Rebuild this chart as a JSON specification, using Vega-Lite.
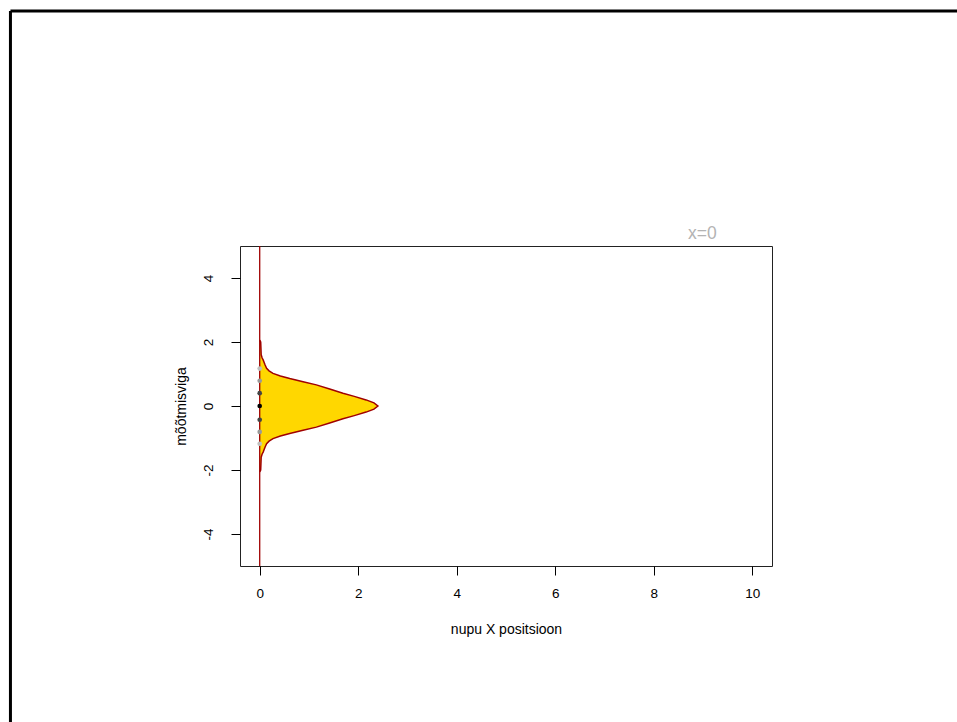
{
  "$schema": "https://vega.github.io/schema/vega-lite/v6.json",
  "width": 532,
  "height": 320,
  "autosize": {"type": "none"},
  "padding": {"left": 240, "top": 246, "right": 185, "bottom": 156},
  "background": "white",
  "config": {
    "font": "Liberation Sans",
    "view": {"stroke": "#222", "strokeWidth": 1}
  },
  "title": {
    "text": "x=0",
    "anchor": "start",
    "frame": "group",
    "dx": 448,
    "offset": -247,
    "baseline": "alphabetic",
    "color": "#B3B3B3",
    "fontSize": 17.5,
    "fontWeight": "normal",
    "font": "Liberation Sans"
  },
  "datasets": {
    "dens": [
      {"y": -2.06, "x": 0.0},
      {"y": -2.0, "x": 0.02},
      {"y": -1.8, "x": 0.025},
      {"y": -1.6, "x": 0.03},
      {"y": -1.5, "x": 0.05},
      {"y": -1.44, "x": 0.07},
      {"y": -1.36, "x": 0.09},
      {"y": -1.28, "x": 0.11},
      {"y": -1.18, "x": 0.14},
      {"y": -1.1, "x": 0.19},
      {"y": -1.02, "x": 0.27},
      {"y": -0.94, "x": 0.42},
      {"y": -0.86, "x": 0.61},
      {"y": -0.76, "x": 0.88},
      {"y": -0.66, "x": 1.15},
      {"y": -0.53, "x": 1.42},
      {"y": -0.4, "x": 1.69},
      {"y": -0.3, "x": 1.92},
      {"y": -0.19, "x": 2.16},
      {"y": -0.1, "x": 2.32},
      {"y": 0.0, "x": 2.4},
      {"y": 0.1, "x": 2.32},
      {"y": 0.19, "x": 2.16},
      {"y": 0.3, "x": 1.92},
      {"y": 0.4, "x": 1.69},
      {"y": 0.53, "x": 1.42},
      {"y": 0.66, "x": 1.15},
      {"y": 0.76, "x": 0.88},
      {"y": 0.86, "x": 0.61},
      {"y": 0.94, "x": 0.42},
      {"y": 1.02, "x": 0.27},
      {"y": 1.1, "x": 0.19},
      {"y": 1.18, "x": 0.14},
      {"y": 1.28, "x": 0.11},
      {"y": 1.36, "x": 0.09},
      {"y": 1.44, "x": 0.07},
      {"y": 1.5, "x": 0.05},
      {"y": 1.6, "x": 0.03},
      {"y": 1.8, "x": 0.025},
      {"y": 2.0, "x": 0.02},
      {"y": 2.06, "x": 0.0}
    ],
    "vline": [
      {"x": 0}
    ],
    "obs": [
      {"x": 0, "y": 1.17, "k": "d3"},
      {"x": 0, "y": 0.79, "k": "d2"},
      {"x": 0, "y": 0.4, "k": "d1"},
      {"x": 0, "y": 0.0, "k": "d0"},
      {"x": 0, "y": -0.43, "k": "d1"},
      {"x": 0, "y": -0.81, "k": "d2"},
      {"x": 0, "y": -1.18, "k": "d3"}
    ],
    "frame": [
      {"x1": -5.06, "x2": 15, "y1": 12.34, "y2": 12.34},
      {"x1": -5.06, "x2": -5.06, "y1": 12.34, "y2": -12}
    ]
  },
  "encoding": {
    "x": {
      "field": "x",
      "type": "quantitative",
      "scale": {"domain": [-0.4, 10.4], "nice": false, "zero": false},
      "axis": {
        "title": "nupu X positsioon",
        "values": [0, 2, 4, 6, 8, 10],
        "grid": false,
        "domain": false,
        "tickColor": "#000",
        "tickSize": 9,
        "labelPadding": 11,
        "labelFontSize": 13.5,
        "labelColor": "#000",
        "labelFont": "Liberation Sans",
        "titleFont": "Liberation Sans",
        "titleFontSize": 14,
        "titleFontWeight": "normal",
        "titleColor": "#000",
        "titlePadding": 23
      }
    },
    "y": {
      "field": "y",
      "type": "quantitative",
      "scale": {"domain": [-5, 5], "nice": false, "zero": false},
      "axis": {
        "title": "mõõtmisviga",
        "values": [-4, -2, 0, 2, 4],
        "labelExpr": "replace(datum.label, '\u2212', '-')",
        "grid": false,
        "domain": false,
        "tickColor": "#000",
        "tickSize": 9,
        "labelAngle": -90,
        "labelAlign": "center",
        "labelBaseline": "bottom",
        "labelPadding": 16,
        "labelFontSize": 13.5,
        "labelColor": "#000",
        "labelFont": "Liberation Sans",
        "titleFont": "Liberation Sans",
        "titleFontSize": 14,
        "titleFontWeight": "normal",
        "titleColor": "#000",
        "titlePadding": 13
      }
    }
  },
  "layer": [
    {
      "data": {"name": "dens"},
      "mark": {"type": "area", "orient": "horizontal", "color": "#FFD700", "opacity": 1},
      "encoding": {
        "x2": {"datum": 0}
      }
    },
    {
      "data": {"name": "dens"},
      "mark": {"type": "line", "color": "#A00000", "strokeWidth": 1.5},
      "encoding": {
        "order": {"field": "y", "type": "quantitative"}
      }
    },
    {
      "data": {"name": "vline"},
      "mark": {"type": "rule", "color": "#A00000", "strokeWidth": 1.3},
      "encoding": {
        "y": null
      }
    },
    {
      "data": {"name": "obs"},
      "mark": {"type": "point", "filled": true, "size": 22, "opacity": 1},
      "encoding": {
        "color": {
          "field": "k",
          "type": "nominal",
          "scale": {"domain": ["d0", "d1", "d2", "d3"], "range": ["#000000", "#444444", "#999999", "#BEBEBE"]},
          "legend": null
        }
      }
    },
    {
      "data": {"name": "frame"},
      "mark": {"type": "rule", "color": "#000", "strokeWidth": 3, "clip": false},
      "encoding": {
        "x": {"field": "x1", "type": "quantitative"},
        "x2": {"field": "x2"},
        "y": {"field": "y1", "type": "quantitative"},
        "y2": {"field": "y2"}
      }
    }
  ]
}
